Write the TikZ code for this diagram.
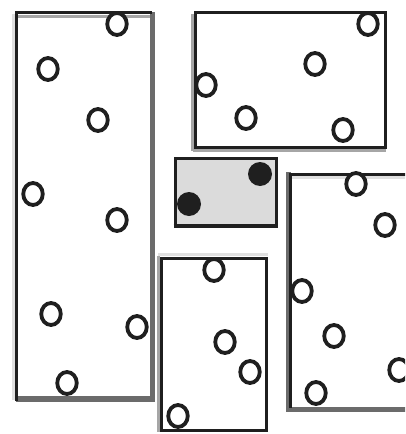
\documentclass[tikz,border=0pt]{standalone}
\usetikzlibrary{shapes.geometric}
\begin{document}
\begin{tikzpicture}[x=1pt,y=-1pt,
  ring/.style={draw=black!88,line width=3.8pt,fill=white,ellipse,minimum width=19.5pt,minimum height=22pt,inner sep=0pt},
  dot/.style={fill=black!88,circle,minimum size=24pt,inner sep=0pt},
  frame/.style={draw=black!88,line width=3pt},
  shadeD/.style={draw=black!58,line width=5.5pt},
  shadeM/.style={draw=black!35,line width=3pt},
  shadeL/.style={draw=black!12,line width=3pt}]
\useasboundingbox (0,0) rectangle (405,434);
\clip (0,0) rectangle (405,434);
% left box
\draw[shadeL] (13,14) -- (13,400);
\draw[shadeM] (17,16) -- (150,16);
\draw[shadeD] (152.5,12) -- (152.5,402);
\draw[shadeD] (16,399) -- (155,399);
\draw[frame] (16,401) -- (16,12) -- (152,12);
% top right box
\draw[shadeM] (192.5,14) -- (192.5,150.5);
\draw[shadeM] (193,150.5) -- (386,150.5);
\draw[frame] (195,12) rectangle (385,147);
% grey box
\draw[frame,fill=black!14] (175,158) rectangle (276,226);
\draw[draw=black!88,line width=4.5pt] (173.5,226) -- (277.5,226);
% bottom middle box
\draw[shadeM] (158.5,256) -- (158.5,432);
\draw[shadeL] (158,254.5) -- (268,254.5);
\draw[frame] (161,258) rectangle (266,430);
% right box
\draw[shadeL] (292,177) -- (410,177);
\draw[shadeD] (288.5,172) -- (288.5,412);
\draw[shadeD] (287,409.5) -- (410,409.5);
\draw[frame] (290,408) -- (290,174) -- (410,174);
% rings left box
\node[ring] (a1) at (117,24) {};
\node[ring] (a2) at (48,69) {};
\node[ring] (a3) at (98,120) {};
\node[ring] (a4) at (33,194) {};
\node[ring] (a5) at (117,220) {};
\node[ring] (a6) at (51,314) {};
\node[ring] (a7) at (137,327) {};
\node[ring] (a8) at (67,383) {};
% rings top right
\node[ring] (b1) at (368,24) {};
\node[ring] (b2) at (315,64) {};
\node[ring] (b3) at (206,85) {};
\node[ring] (b4) at (246,118) {};
\node[ring] (b5) at (343,130) {};
% dots grey box
\node[dot] (c1) at (260,174) {};
\node[dot] (c2) at (189,204) {};
% rings bottom middle
\node[ring] (d1) at (214,270) {};
\node[ring] (d2) at (225,342) {};
\node[ring] (d3) at (250,372) {};
\node[ring] (d4) at (178,416) {};
% rings right box
\node[ring] (e1) at (356,184) {};
\node[ring] (e2) at (385,225) {};
\node[ring] (e3) at (302,291) {};
\node[ring] (e4) at (334,336) {};
\node[ring] (e5) at (399,370) {};
\node[ring] (e6) at (316,393) {};
\end{tikzpicture}
\end{document}
